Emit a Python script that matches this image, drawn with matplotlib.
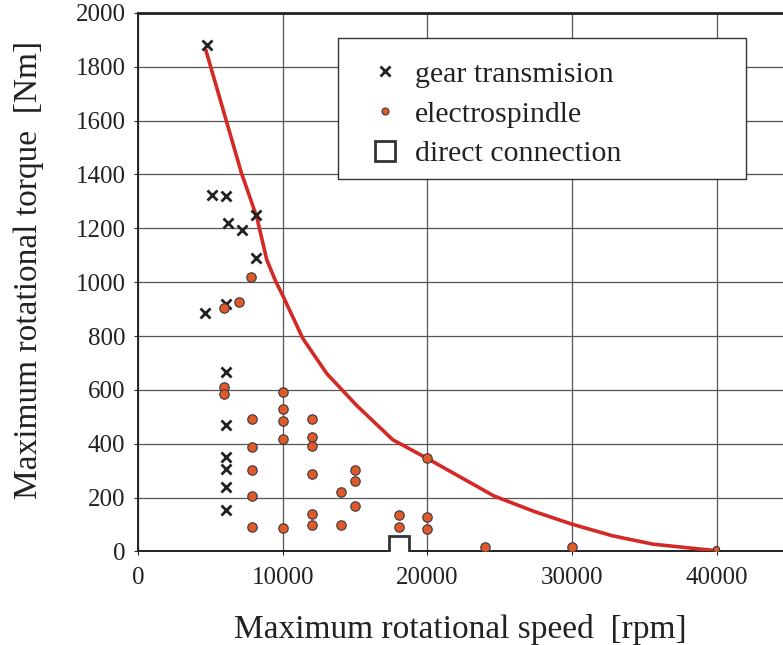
import matplotlib
matplotlib.use("Agg")
import matplotlib.pyplot as plt
from matplotlib.patches import Rectangle
import numpy as np

plt.rcParams['font.family'] = ['Liberation Serif', 'DejaVu Serif']

# gear transmission spindles
gear_speed = [4800, 5100, 6100, 6200, 7200, 8150, 8150, 6100, 4650,
              6100, 6100, 6100, 6100, 6100, 6100]
gear_torque = [1880, 1325, 1320, 1220, 1195, 1250, 1090, 920, 885,
               665, 470, 350, 305, 238, 154]

# electrospindles
spindle_speed = [7800, 5950, 7000, 5950, 5950, 10000, 10000, 10000, 10000,
                 7900, 7900, 7900, 7900, 7900, 10000, 12000, 12000, 12000,
                 12000, 12000, 12000, 14000, 14000, 15000, 15000, 15000,
                 18000, 18000, 20000, 20000, 20000, 24000, 30000, 39900]
spindle_torque = [1020, 903, 928, 610, 585, 591, 528, 485, 418,
                  492, 387, 302, 206, 90, 86, 492, 426, 393,
                  288, 138, 98, 222, 98, 303, 261, 169,
                  136, 92, 127, 82, 346, 18, 16, 8]

# direct connection
direct_speed = [18000]
direct_torque = [20]

# limit curve
limit_speed = [4700, 7150, 8200, 8900, 9500, 10050, 11400, 13050, 15150,
               17600, 20000, 24600, 27400, 30000, 32800, 35600, 39900]
limit_torque = [1860, 1405, 1243, 1083, 1005, 945, 790, 660, 540,
                415, 345, 206, 148, 101, 58, 27, 3]

x_ticks = [0, 10000, 20000, 30000, 40000]
y_ticks = list(range(0, 2001, 200))

fig = plt.figure(figsize=(7.83, 6.45), dpi=100)
ax = fig.add_axes([0.1762, 0.145, 0.8238, 0.835])

ax.plot(limit_speed, limit_torque, color='#d42a26', lw=2.6, zorder=3)

ax.plot(gear_speed, gear_torque, linestyle='none', marker='x',
        markersize=7.5, markeredgewidth=2.0, color='#222222', zorder=4,
        label='gear transmision')

sizes = np.full(len(spindle_speed), 6.8)
sizes[-1] = 4.5
for i, (sx, sy) in enumerate(zip(spindle_speed, spindle_torque)):
    ax.plot(sx, sy, linestyle='none', marker='o', markersize=sizes[i],
            markerfacecolor='#e0592a', markeredgecolor='#3a3a3a',
            markeredgewidth=0.8, zorder=5,
            label='electrospindle' if i == 0 else None)

ax.plot(direct_speed, direct_torque, linestyle='none', marker='s',
        markersize=15, markerfacecolor='white', markeredgecolor='#333333',
        markeredgewidth=2.0, zorder=5, label='direct connection')

ax.set_xlim(0, 44560)
ax.set_ylim(0, 2000)
ax.set_xticks(x_ticks)
ax.set_yticks(y_ticks)
ax.grid(True, color='#555555', lw=0.9)
ax.set_axisbelow(True)

ax.spines['right'].set_visible(False)
ax.spines['top'].set_linewidth(2.0)
ax.spines['left'].set_linewidth(1.4)
ax.spines['bottom'].set_linewidth(1.4)
for s in ['top', 'left', 'bottom']:
    ax.spines[s].set_color('#222222')

ax.tick_params(axis='both', direction='out', length=3, labelsize=18,
               colors='#222222')
ax.tick_params(axis='x', pad=8)
ax.tick_params(axis='y', pad=6)

ax.set_xlabel('Maximum rotational speed  [rpm]', fontsize=24, color='#222222')
ax.set_ylabel('Maximum rotational torque  [Nm]', fontsize=24, color='#222222')
ax.xaxis.set_label_coords(0.5, -0.117)
ax.yaxis.set_label_coords(-0.146, 0.523)

# legend box drawn by hand so the padding matches
box = Rectangle((0.310, 0.692), 0.633, 0.262, transform=ax.transAxes,
                facecolor='white', edgecolor='#333333', lw=1.0, zorder=6)
ax.add_patch(box)

leg = ax.legend(loc='upper left', bbox_to_anchor=(0.310, 0.692, 0.633, 0.262),
                mode='expand', fontsize=21.5, frameon=False,
                borderaxespad=0, borderpad=0.78, labelspacing=0.43,
                handlelength=1.6, handletextpad=0.2)
leg.set_zorder(7)
leg.legend_handles[1].set_markersize(5)
for t in leg.get_texts():
    t.set_color('#222222')

fig.savefig('out.png', dpi=100)
